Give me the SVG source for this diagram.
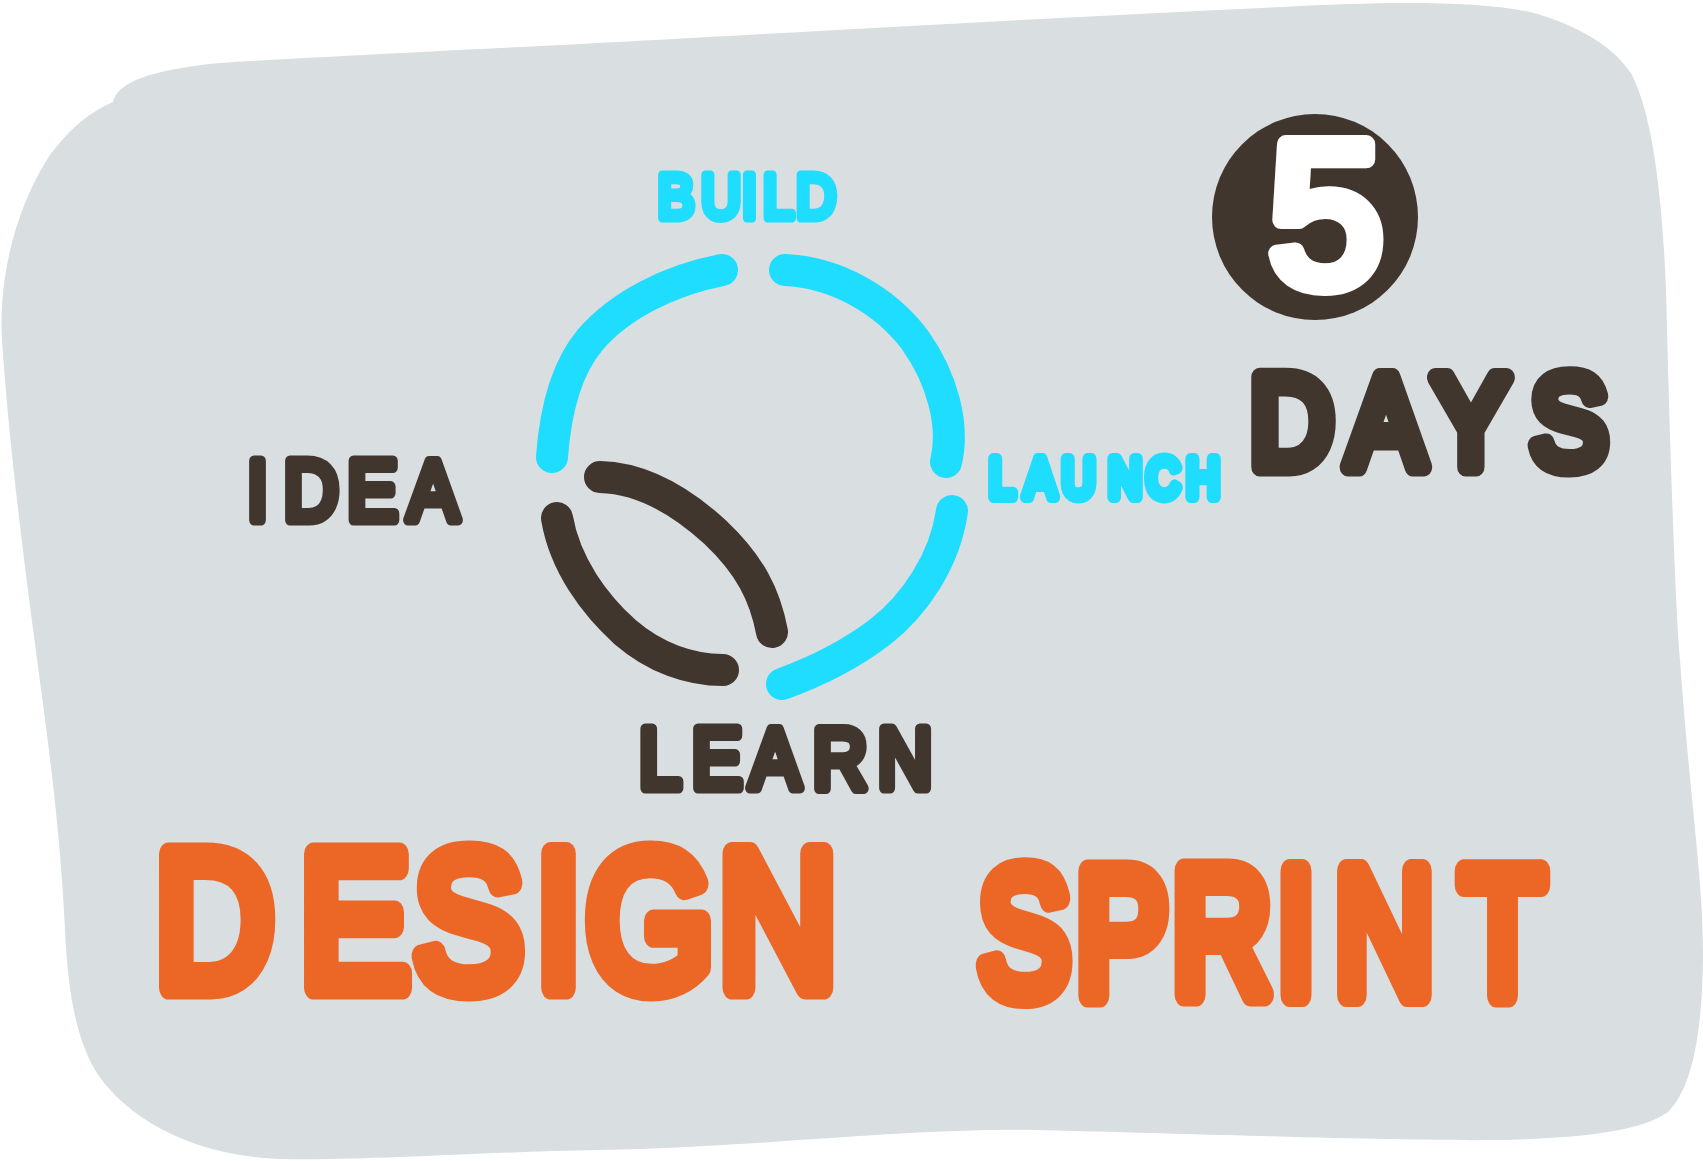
<svg xmlns="http://www.w3.org/2000/svg" width="1703" height="1161" viewBox="0 0 1703 1161">
  <style>
    .lbl { font-family: "Liberation Sans", Arial, sans-serif; font-weight: 400; stroke-linejoin: round; stroke-linecap: round; paint-order: stroke; text-anchor: middle; }
    .dark { fill: #41362D; stroke: #41362D; }
    .cyan { fill: #1FDDFE; stroke: #1FDDFE; }
    .orange { fill: #EC6725; stroke: #EC6725; }
    .arc { fill: none; stroke-width: 32; stroke-linecap: round; stroke-linejoin: round; }
    .arc-cyan { stroke: #1FDDFE; }
    .arc-dark { stroke: #41362D; }
  </style>
  <rect x="0" y="0" width="1703" height="1161" fill="#FFFFFF"/>
  <g id="background">
    <path fill="#D9DEE1" d="M113,102 C118,82 150,70 220,63 C300,58 420,52 500,48 C700,38 1000,20 1282,7 C1380,2 1470,0 1530,12 C1590,28 1620,55 1632,75 C1652,115 1662,190 1666,290 C1670,450 1675,600 1680,660 C1690,800 1703,880 1703,950 C1703,1040 1690,1090 1668,1112 C1640,1132 1580,1138 1500,1140 C1420,1141 1300,1137 1040,1130 C900,1128 750,1148 600,1150 C480,1152 360,1161 280,1159 C180,1155 120,1110 95,1070 C75,1035 68,990 65,930 C60,820 45,720 33,629 C20,530 8,430 2,340 C-2,270 20,200 50,155 C70,128 90,112 113,102 Z"/>
  </g>
  <g id="connectors">
    <path class="arc arc-cyan" d="M722,270 C670,280 620,305 590,340 C565,370 555,415 552,457"/>
    <path class="arc arc-cyan" d="M785,270 C835,272 885,300 915,340 C942,378 955,425 946,462"/>
    <path class="arc arc-cyan" d="M952,511 C945,560 915,605 880,632 C850,655 815,672 782,684"/>
    <path class="arc arc-dark" d="M600,477 C640,478 680,500 715,532 C750,565 765,595 772,632"/>
    <path class="arc arc-dark" d="M557,518 C565,565 595,605 625,632 C655,658 690,670 723,670"/>
  </g>
  <g id="idea">
    <text class="lbl dark" transform="scale(0.88,1)" x="292.61 353.41 423.30 492.05" y="520" font-size="86" stroke-width="11">IDEA</text>
  </g>
  <g id="build">
    <text class="lbl cyan" transform="scale(0.88,1)" x="768.18 819.32 851.70 884.66 927.27" y="218" font-size="63" stroke-width="9">BUILD</text>
  </g>
  <g id="launch">
    <text class="lbl cyan" transform="scale(0.82,1)" x="1221.95 1268.3 1315.2 1372.0 1418.29 1467.07" y="497" font-size="56" stroke-width="12">LAUNCH</text>
  </g>
  <g id="learn">
    <text class="lbl dark" transform="scale(0.88,1)" x="750 814.77 880.68 954.55 1028.41" y="788" font-size="86" stroke-width="11">LEARN</text>
  </g>
  <g id="five-days">
    <ellipse cx="1315" cy="217" rx="103" ry="103" fill="#41362D"/>
    <text class="lbl" x="1326" y="285" font-size="205" fill="#FFFFFF" stroke="#FFFFFF" stroke-width="18">5</text>
    <text class="lbl dark" transform="scale(0.88,1)" x="1467.61 1575 1671.59 1782.95" y="467" font-size="130" stroke-width="19">DAYS</text>
  </g>
  <g id="title">
    <text class="lbl orange" transform="scale(0.84,1)" x="255.36 422.62 557.74 664.88 773.81 926.19" y="988" font-size="195" stroke-width="23">DESIGN</text>
    <text class="lbl orange" transform="scale(0.76,1)" x="1347.37 1476.32 1607.89 1705.26 1821.71 1976.97" y="995" font-size="180" stroke-width="24">SPRINT</text>
  </g>
</svg>
